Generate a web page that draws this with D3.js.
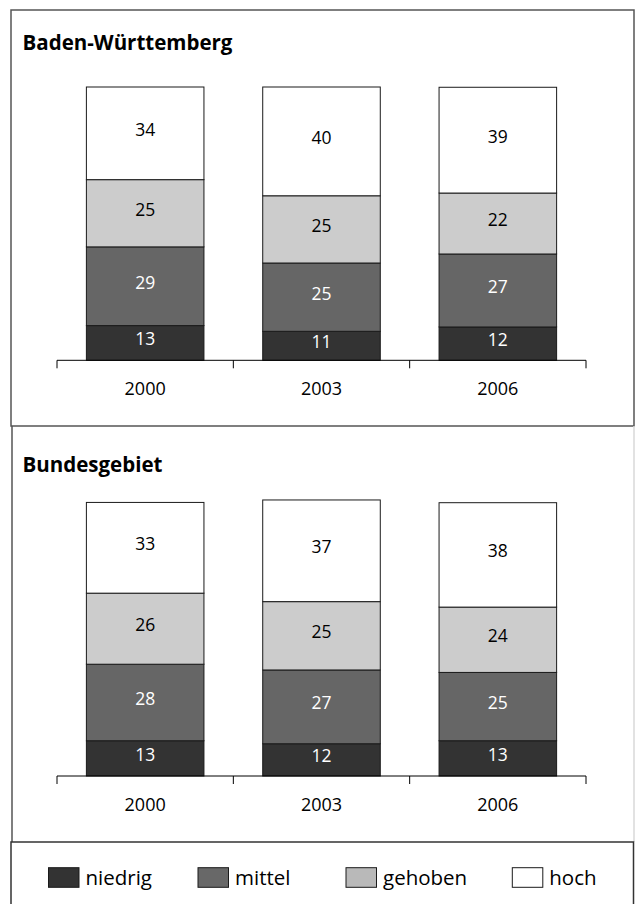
<!DOCTYPE html>
<html>
<head>
<meta charset="utf-8">
<script src="https://cdn.jsdelivr.net/npm/d3@7"></script>
<style>
  html, body { margin: 0; padding: 0; background: #fff; }
  svg { display: block; }
  text { font-family: "Open Sans", "Noto Sans", sans-serif; }
</style>
</head>
<body>
<svg id="chart" width="635" height="904"></svg>
<script>
// ---- data ----
const years = ["2000", "2003", "2006"];
const seriesKeys = ["niedrig", "mittel", "gehoben", "hoch"];

// Baden-Württemberg (percent)
const bwNiedrig = [12.7, 10.6, 12.2];
const bwMittel  = [28.8, 25.0, 26.7];
const bwGehoben = [24.6, 24.6, 22.3];
const bwHoch    = [33.9, 39.8, 38.7];

// Bundesgebiet (percent)
const bgNiedrig = [12.9, 11.8, 12.9];
const bgMittel  = [28.0, 27.0, 25.0];
const bgGehoben = [26.0, 25.0, 23.9];
const bgHoch    = [33.2, 37.2, 38.2];

const panelTitles = ["Baden-Württemberg", "Bundesgebiet"];
const legendLabels = ["niedrig", "mittel", "gehoben", "hoch"];

// ---- styles ----
const fillColor = { niedrig: "#333333", mittel: "#666666", gehoben: "#cccccc", hoch: "#ffffff" };
const legendFill = { niedrig: "#333333", mittel: "#686868", gehoben: "#b9b9b9", hoch: "#ffffff" };
const labelColor = { niedrig: "#ffffff", mittel: "#ffffff", gehoben: "#000000", hoch: "#000000" };

function rows(n, m, g, h) {
  return years.map((y, i) => ({ year: y, niedrig: n[i], mittel: m[i], gehoben: g[i], hoch: h[i] }));
}
const panels = [
  { title: panelTitles[0], data: rows(bwNiedrig, bwMittel, bwGehoben, bwHoch), top: 10, base: 360.3, titleY: 50 },
  { title: panelTitles[1], data: rows(bgNiedrig, bgMittel, bgGehoben, bgHoch), top: 426, base: 776, titleY: 471.7 }
];

const svg = d3.select("#chart");

// panel frames
svg.append("rect").attr("x", 11).attr("y", 10).attr("width", 623).attr("height", 416)
  .attr("fill", "none").attr("stroke", "#555").attr("stroke-width", 1.5);
svg.append("line").attr("x1", 12).attr("x2", 12).attr("y1", 426).attr("y2", 842)
  .attr("stroke", "#555").attr("stroke-width", 1.5);
svg.append("line").attr("x1", 634).attr("x2", 634).attr("y1", 426).attr("y2", 842)
  .attr("stroke", "#d9d9d9").attr("stroke-width", 1.5);
svg.append("rect").attr("x", 11).attr("y", 842).attr("width", 622.5).attr("height", 80)
  .attr("fill", "none").attr("stroke", "#333").attr("stroke-width", 1.5);

const x = d3.scaleBand().domain(years).range([57, 586]).paddingInner(1 / 3).paddingOuter(1 / 6);
const stack = d3.stack().keys(seriesKeys);
const fmt = d3.format(".0f");

panels.forEach(p => {
  const y = d3.scaleLinear().domain([0, 100]).range([p.base, p.base - 273.3]);
  const g = svg.append("g");

  g.append("text").attr("x", 22.5).attr("y", p.titleY)
    .attr("font-size", 20.5).attr("font-weight", 700).attr("fill", "#000").text(p.title);

  const layers = stack(p.data);
  layers.forEach(layer => {
    const key = layer.key;
    const lg = g.append("g");
    lg.selectAll("rect").data(layer).join("rect")
      .attr("x", d => x(d.data.year))
      .attr("width", x.bandwidth())
      .attr("y", d => y(d[1]))
      .attr("height", d => y(d[0]) - y(d[1]))
      .attr("fill", fillColor[key])
      .attr("stroke", "#1a1a1a").attr("stroke-width", 1);
    lg.selectAll("text").data(layer).join("text")
      .attr("x", d => x(d.data.year) + x.bandwidth() / 2)
      .attr("y", d => (y(d[0]) + y(d[1])) / 2 + 2.5)
      .attr("text-anchor", "middle")
      .attr("font-size", 17.5)
      .attr("fill", labelColor[key])
      .text(d => fmt(d[1] - d[0]));
  });

  // category axis with boundary ticks
  const r = x.range();
  const step = x.step();
  const bounds = d3.range(years.length + 1).map(i => r[0] + i * step);
  const ax = g.append("g");
  ax.append("line").attr("x1", r[0]).attr("x2", r[1]).attr("y1", p.base).attr("y2", p.base)
    .attr("stroke", "#000").attr("stroke-width", 1);
  ax.selectAll("line.tick").data(bounds).join("line").attr("class", "tick")
    .attr("x1", d => d).attr("x2", d => d).attr("y1", p.base).attr("y2", p.base + 8)
    .attr("stroke", "#000").attr("stroke-width", 1);
  ax.selectAll("text").data(years).join("text")
    .attr("x", d => x(d) + x.bandwidth() / 2)
    .attr("y", p.base + 35)
    .attr("text-anchor", "middle")
    .attr("font-size", 18)
    .attr("fill", "#000")
    .text(d => d);
});

// legend
const legendX = [48.5, 198, 346, 512.3];
const leg = svg.append("g");
seriesKeys.forEach((k, i) => {
  leg.append("rect").attr("x", legendX[i]).attr("y", 867.7).attr("width", 30.5).attr("height", 19.6)
    .attr("fill", legendFill[k]).attr("stroke", "#1a1a1a").attr("stroke-width", 1);
  leg.append("text").attr("x", legendX[i] + 37).attr("y", 885)
    .attr("font-size", 20.5).attr("fill", "#000").text(legendLabels[i]);
});
</script>
</body>
</html>
